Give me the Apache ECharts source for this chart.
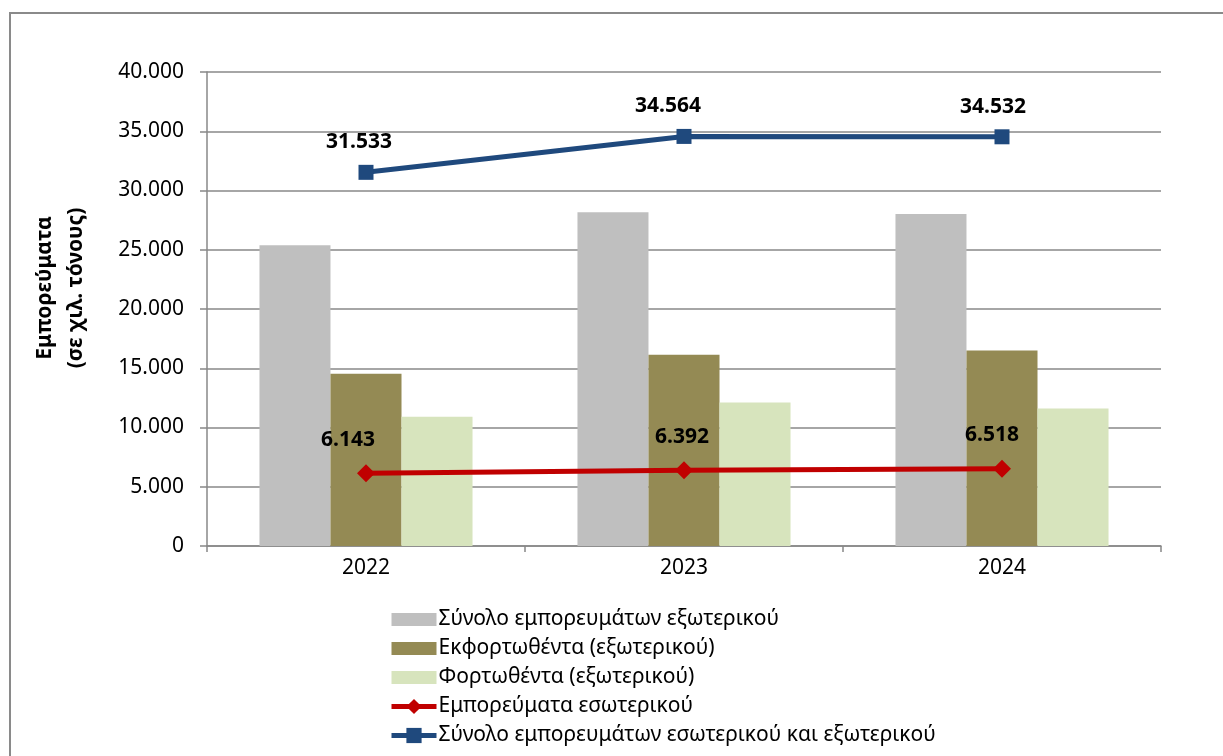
<!DOCTYPE html>
<html>
<head>
<meta charset="utf-8">
<script src="https://cdn.jsdelivr.net/npm/echarts@6/dist/echarts.min.js"></script>
<style>
html,body{margin:0;padding:0;background:#fff;}
#chart{width:1223px;height:756px;}
</style>
</head>
<body>
<div id="chart"></div>
<script>
const categories = ['2022', '2023', '2024'];
const seriesNames = [
  'Σύνολο εμπορευμάτων εξωτερικού',
  'Εκφορτωθέντα (εξωτερικού)',
  'Φορτωθέντα (εξωτερικού)',
  'Εμπορεύματα εσωτερικού',
  'Σύνολο εμπορευμάτων εσωτερικού και εξωτερικού'
];
const totalForeign = [25390, 28172, 28014];
const unloadedForeign = [14540, 16140, 16500];
const loadedForeign = [10900, 12100, 11600];
const domestic = [6143, 6392, 6518];
const totalAll = [31533, 34564, 34532];
const yTicks = { min: 0, max: 40000, interval: 5000 };
const yAxisTitle = ['Εμπορεύματα', '(σε χιλ. τόνους)'];

// label nudges (styling only)
const domesticLabelDx = [-18, -2, -10];
const totalLabelDx = [-7, -16, -9];

const FONT = 'Noto Sans';
const FS = 21;
function fmt(v) {
  return String(Math.round(v)).replace(/\B(?=(\d{3})+(?!\d))/g, '.');
}
// bar legend swatch: 45x13 block centered in a 45x19 box
const barIcon = 'path://M0,0 M0,3 L45,3 L45,16 L0,16 Z M45,19';

const chart = echarts.init(document.getElementById('chart'), null, { renderer: 'canvas' });

const option = {
  animation: false,
  backgroundColor: '#ffffff',
  textStyle: { fontFamily: FONT },
  grid: { left: 207, right: 62, top: 72, bottom: 210, containLabel: false },
  legend: {
    orient: 'vertical',
    left: 384,
    top: 604,
    itemWidth: 45,
    itemHeight: 19,
    itemGap: 8,
    textStyle: { fontFamily: FONT, fontSize: FS, color: '#000', padding: [0, 0, 0, -3] },
    data: [
      { name: seriesNames[0], icon: barIcon },
      { name: seriesNames[1], icon: barIcon },
      { name: seriesNames[2], icon: barIcon },
      { name: seriesNames[3], lineStyle: { width: 5 } },
      { name: seriesNames[4], lineStyle: { width: 5 } }
    ]
  },
  xAxis: {
    type: 'category',
    data: categories,
    boundaryGap: true,
    axisLine: { lineStyle: { color: '#888888', width: 1.5 } },
    axisTick: { show: true, length: 6, alignWithLabel: false, lineStyle: { color: '#888888', width: 1.5 } },
    axisLabel: { fontFamily: FONT, fontSize: FS, color: '#000', margin: 12 },
    splitLine: { show: false }
  },
  yAxis: {
    type: 'value',
    min: yTicks.min,
    max: yTicks.max,
    interval: yTicks.interval,
    axisLine: { show: true, lineStyle: { color: '#888888', width: 1.5 } },
    axisTick: { show: true, length: 7, lineStyle: { color: '#888888', width: 1.5 } },
    axisLabel: { fontFamily: FONT, fontSize: FS, color: '#000', margin: 23, formatter: fmt },
    splitLine: { show: true, lineStyle: { color: '#888888', width: 1.5 } }
  },
  graphic: [
    {
      type: 'rect',
      shape: { x: 10, y: 13, width: 1400, height: 900 },
      style: { fill: 'none', stroke: '#8a8a8a', lineWidth: 2 },
      silent: true,
      z: 0
    },
    {
      type: 'text',
      x: 61,
      y: 288,
      rotation: Math.PI / 2,
      style: {
        text: yAxisTitle.join('\n'),
        fontFamily: FONT,
        fontSize: FS,
        fontWeight: 'bold',
        fill: '#000',
        align: 'center',
        verticalAlign: 'middle',
        lineHeight: 31
      },
      z: 10
    }
  ],
  series: [
    {
      name: seriesNames[0], type: 'bar', data: totalForeign,
      itemStyle: { color: '#BFBFBF' }, barGap: '0%', barCategoryGap: '33%'
    },
    {
      name: seriesNames[1], type: 'bar', data: unloadedForeign,
      itemStyle: { color: '#948A54' }, barGap: '0%', barCategoryGap: '33%'
    },
    {
      name: seriesNames[2], type: 'bar', data: loadedForeign,
      itemStyle: { color: '#D7E4BD' }, barGap: '0%', barCategoryGap: '33%'
    },
    {
      name: seriesNames[3], type: 'line', z: 5,
      data: domestic.map((v, i) => ({
        value: v,
        label: { offset: [domesticLabelDx[i], 0] }
      })),
      symbol: 'diamond', symbolSize: 18,
      lineStyle: { color: '#C00000', width: 5 },
      itemStyle: { color: '#C00000' },
      label: {
        show: true, position: 'top', distance: 14,
        fontFamily: FONT, fontSize: FS, fontWeight: 'bold', color: '#000',
        formatter: p => fmt(p.value)
      }
    },
    {
      name: seriesNames[4], type: 'line', z: 5,
      data: totalAll.map((v, i) => ({
        value: v,
        label: { offset: [totalLabelDx[i], 0] }
      })),
      symbol: 'rect', symbolSize: 15,
      lineStyle: { color: '#1F497D', width: 5 },
      itemStyle: { color: '#1F497D' },
      label: {
        show: true, position: 'top', distance: 12,
        fontFamily: FONT, fontSize: FS, fontWeight: 'bold', color: '#000',
        formatter: p => fmt(p.value)
      }
    }
  ]
};
chart.setOption(option);
</script>
</body>
</html>
